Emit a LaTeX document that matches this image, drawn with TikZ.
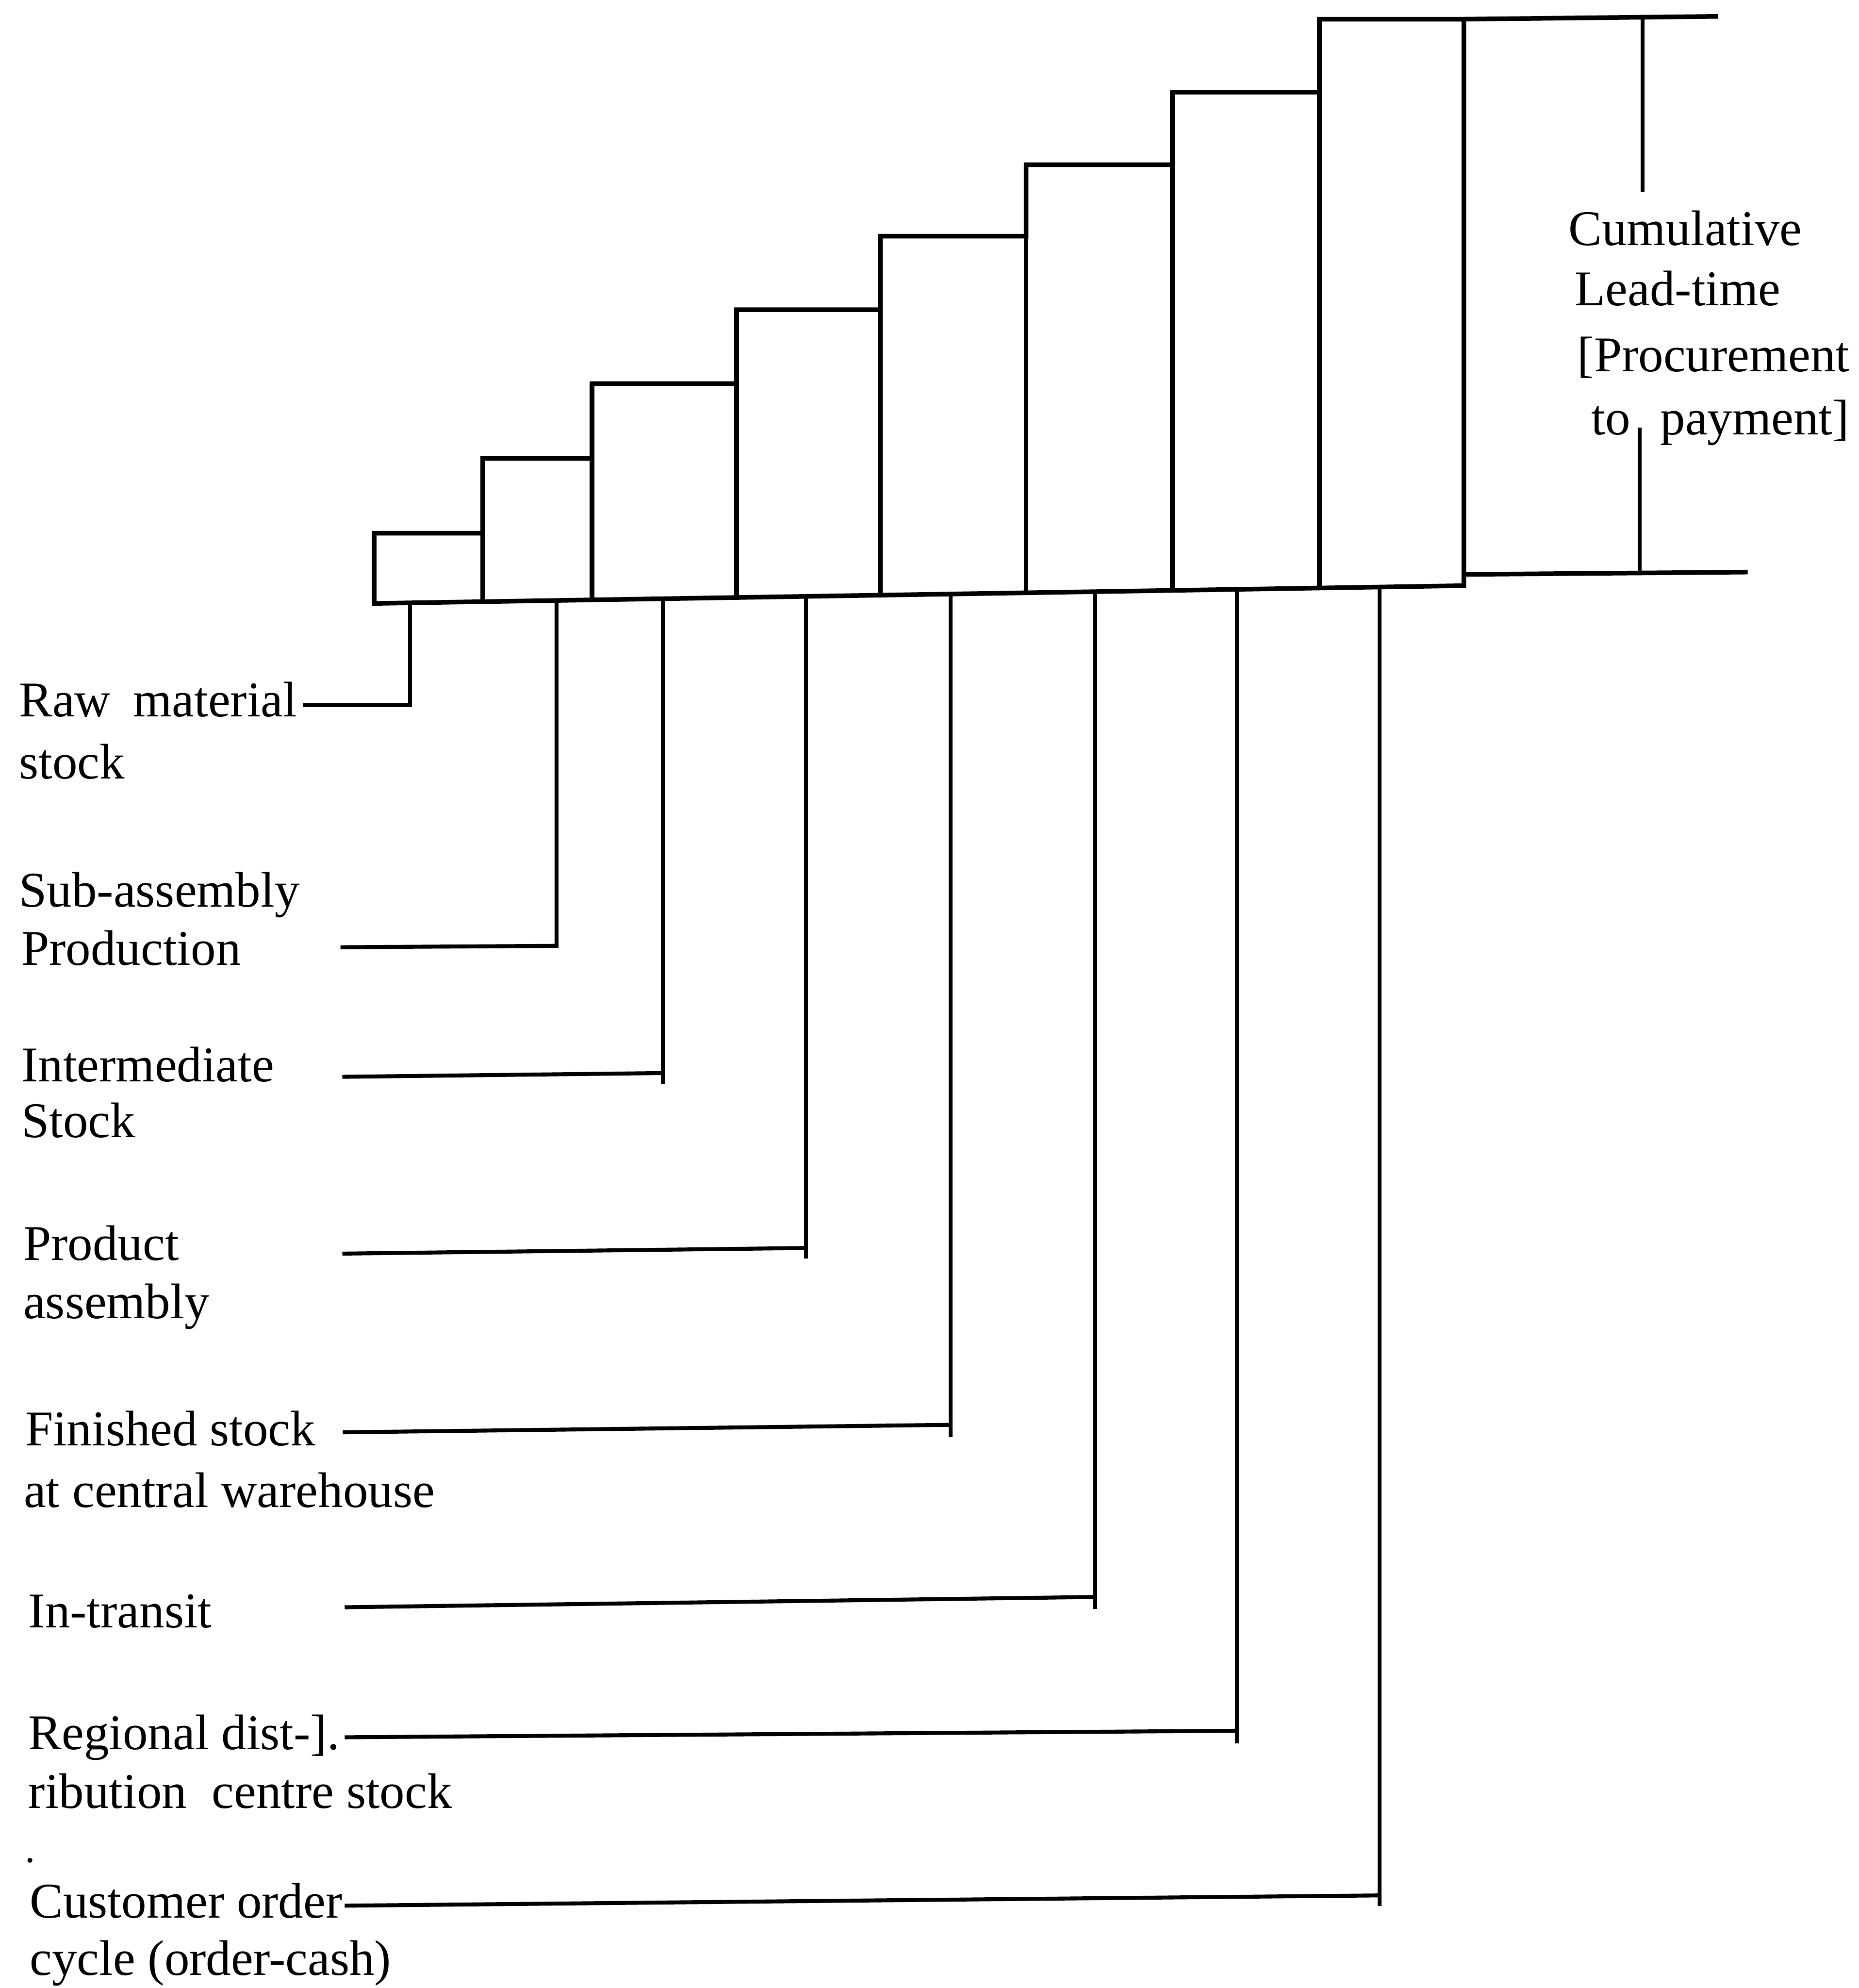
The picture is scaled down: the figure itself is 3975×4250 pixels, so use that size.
\documentclass[tikz,border=0pt]{standalone}
\usepackage{fontspec}
\setmainfont{Liberation Serif}
\begin{document}
\begin{tikzpicture}[x=0.01cm,y=-0.01cm,
  bar/.style={line width=2.8pt, line join=miter},
  lead/.style={line width=2.4pt},
  lbl/.style={anchor=base west, inner sep=0pt, outer sep=0pt,
              font=\fontsize{30.4}{36}\selectfont}]
\useasboundingbox (0,0) rectangle (3975,4250);

% ---- staircase of stages (outline and shared walls) ----
\draw[bar] (800,1290) -- (800,1140) -- (1032,1140) -- (1032,980) -- (1266,980)
  -- (1266,820) -- (1575,820) -- (1575,662) -- (1882,662) -- (1882,505)
  -- (2194,505) -- (2194,352) -- (2507,352) -- (2507,197) -- (2821,197)
  -- (2821,41) -- (3130,41) -- (3130,1252) -- cycle;
\foreach \x/\t/\b in {1032/980/1286.2, 1266/820/1282.4, 1575/662/1277.4,
                      1882/505/1272.4, 2194/352/1267.3, 2507/197/1262.2,
                      2821/41/1257.0}
  \draw[bar] (\x,\t) -- (\x,\b);

% ---- cumulative span on the right ----
\coordinate (topL) at (3130,41);
\coordinate (topR) at (3674,35);
\coordinate (botL) at (3130,1228);
\coordinate (botR) at (3737,1223);
\coordinate (spanA) at (3512,38);
\coordinate (spanB) at (3512,410);
\coordinate (spanC) at (3506,914);
\coordinate (spanD) at (3506,1225);
\draw[bar] (topL) -- (topR);
\draw[bar] (botL) -- (botR);
\draw[lead] (spanA) -- (spanB);
\draw[lead] (spanC) -- (spanD);

\node[lbl] (cum1) at (3354,524) {Cumulative};
\node[lbl] (cum2) at (3368,653) {Lead-time};
\node[lbl] (cum3) at (3373,794) {[Procurement};
\node[lbl] (cum4) at (3403,929) {to\hspace{0.6em}payment]};

% ---- stage labels ----
\node[lbl] (raw)   at (41,1532) {Raw\hspace{0.45em}material};
\node[lbl] (raw2)  at (41,1665) {stock};
\node[lbl] (sub)   at (41,1939) {Sub-assembly};
\node[lbl] (sub2)  at (46,2063) {Production};
\node[lbl] (inter) at (46,2312) {Intermediate};
\node[lbl] (inter2) at (46,2432) {Stock};
\node[lbl] (prod)  at (50,2694) {Product};
\node[lbl] (prod2) at (50,2819) {assembly};
\node[lbl] (fin)   at (54,3090) {Finished stock};
\node[lbl] (fin2)  at (51,3222) {at central warehouse};
\node[lbl] (tra)   at (61,3480) {In-transit};
\node[lbl] (reg)   at (61,3740) {Regional dist-].};
\node[lbl] (reg2)  at (61,3866) {ribution\hspace{0.5em}centre stock};
\node[circle, fill, inner sep=0pt, minimum size=3pt] (dot) at (64,3977) {};
\node[lbl] (cus)   at (64,4100) {Customer order};
\node[lbl] (cus2)  at (64,4222) {cycle (order-cash)};

% ---- leader lines: label -> corner -> foot of each stage ----
\coordinate (s1) at (647,1508);  \coordinate (c1) at (877,1508);  \coordinate (f1) at (877,1288.7);
\coordinate (s2) at (728,2025);  \coordinate (c2) at (1190,2022); \coordinate (f2) at (1190,1283.6);
\coordinate (s3) at (732,2302);  \coordinate (c3) at (1417,2294); \coordinate (f3) at (1417,1279.9);
\coordinate (s4) at (732,2680);  \coordinate (c4) at (1723,2668); \coordinate (f4) at (1723,1275.0);
\coordinate (s5) at (733,3062);  \coordinate (c5) at (2033,3046); \coordinate (f5) at (2033,1269.9);
\coordinate (s6) at (737,3436);  \coordinate (c6) at (2342,3414); \coordinate (f6) at (2342,1264.9);
\coordinate (s7) at (737,3714);  \coordinate (c7) at (2645,3700); \coordinate (f7) at (2645,1259.9);
\coordinate (s8) at (737,4074);  \coordinate (c8) at (2950,4052); \coordinate (f8) at (2950,1254.9);
\coordinate (e3) at (1417,2318);
\coordinate (e4) at (1723,2690);
\coordinate (e5) at (2033,3072);
\coordinate (e6) at (2342,3440);
\coordinate (e7) at (2645,3727);
\coordinate (e8) at (2950,4075);

\draw[lead] (s1) -- (c1) -- (f1);
\draw[lead] (s2) -- (c2) -- (f2);
\draw[lead] (s3) -- (c3);  \draw[lead] (e3) -- (f3);
\draw[lead] (s4) -- (c4);  \draw[lead] (e4) -- (f4);
\draw[lead] (s5) -- (c5);  \draw[lead] (e5) -- (f5);
\draw[lead] (s6) -- (c6);  \draw[lead] (e6) -- (f6);
\draw[lead] (s7) -- (c7);  \draw[lead] (e7) -- (f7);
\draw[lead] (s8) -- (c8);  \draw[lead] (e8) -- (f8);
\end{tikzpicture}
\end{document}
